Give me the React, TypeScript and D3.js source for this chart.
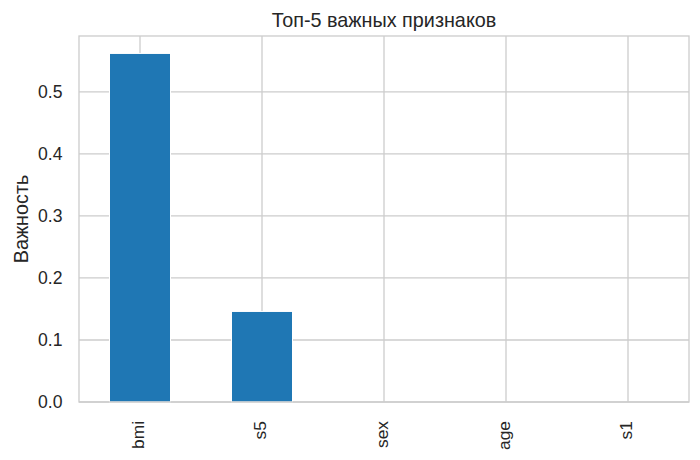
import * as d3 from "d3";

const FEATURES = ["bmi", "s5", "sex", "age", "s1"];
const IMPORTANCE = [0.562, 0.146, 0, 0, 0];
const Y_TICKS = [0, 0.1, 0.2, 0.3, 0.4, 0.5];

const TITLE = "Топ-5 важных признаков";
const Y_LABEL = "Важность";

const W = 700;
const H = 460;
const margin = { top: 36, right: 11, bottom: 58, left: 79 };
const FONT = "'Liberation Sans', Arial, sans-serif";
const TEXT = "#262626";
const GRID = "#cccccc";

export default function App() {
  const x0 = margin.left;
  const x1 = W - margin.right;
  const y0 = H - margin.bottom;
  const y1 = margin.top;

  const x = d3.scaleBand().domain(FEATURES).range([x0, x1]).padding(0);
  const ymax = (d3.max(IMPORTANCE) ?? 1) * 1.05;
  const y = d3.scaleLinear().domain([0, ymax]).range([y0, y1]);
  const barW = x.bandwidth() * 0.5;
  const fmt = d3.format(".1f");

  return (
    <svg width={W} height={H} style={{ position: "absolute", left: 0, top: 0, background: "#fff" }} fontFamily={FONT}>
      <rect x={0} y={0} width={W} height={H} fill="#fff" />
      {/* grid */}
      {Y_TICKS.map((t) => (
        <line key={"gy" + t} x1={x0} x2={x1} y1={y(t)} y2={y(t)} stroke={GRID} strokeWidth={1.3} />
      ))}
      {FEATURES.map((f) => {
        const cx = x(f)! + x.bandwidth() / 2;
        return <line key={"gx" + f} x1={cx} x2={cx} y1={y0} y2={y1} stroke={GRID} strokeWidth={1.3} />;
      })}

      {/* bars */}
      {FEATURES.map((f, i) => {
        const cx = x(f)! + x.bandwidth() / 2;
        const top = y(IMPORTANCE[i]);
        return (
          <rect
            key={"b" + f}
            x={cx - barW / 2}
            y={top}
            width={barW}
            height={y0 - top}
            fill="#1f77b4"
            stroke="#fff"
            strokeWidth={1}
          />
        );
      })}

      {/* spines */}
      <rect x={x0} y={y1} width={x1 - x0} height={y0 - y1} fill="none" stroke={GRID} strokeWidth={1.3} />

      {/* y ticks */}
      {Y_TICKS.map((t) => (
        <text key={"ty" + t} x={x0 - 16.5} y={y(t)} dy="0.35em" textAnchor="end" fontSize={17.6} fill={TEXT}>
          {fmt(t)}
        </text>
      ))}

      {/* x ticks */}
      {FEATURES.map((f) => {
        const cx = x(f)! + x.bandwidth() / 2;
        const ty = y0 + 19;
        return (
          <text
            key={"tx" + f}
            transform={`translate(${cx},${ty}) rotate(-90)`}
            textAnchor="end"
            dy="0.25em"
            fontSize={17.4}
            fill={TEXT}
          >
            {f}
          </text>
        );
      })}

      {/* title */}
      <text x={(x0 + x1) / 2} y={27} textAnchor="middle" fontSize={19.8} fill={TEXT}>
        {TITLE}
      </text>

      {/* y label */}
      <text transform={`translate(27.5,${(y0 + y1) / 2}) rotate(-90)`} textAnchor="middle" fontSize={19.8} fill={TEXT}>
        {Y_LABEL}
      </text>
    </svg>
  );
}
